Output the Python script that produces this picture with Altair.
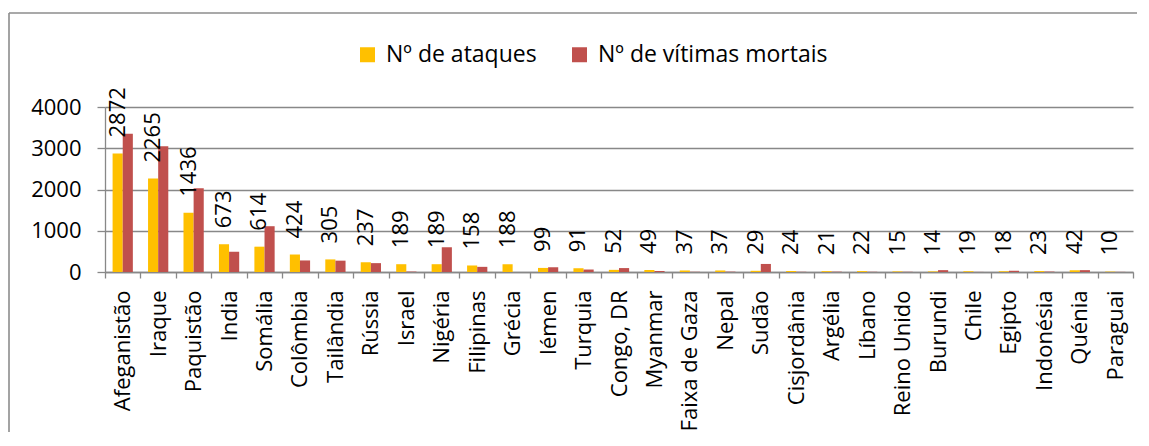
import altair as alt
import pandas as pd

countries = ["Afeganistão", "Iraque", "Paquistão", "India", "Somália", "Colômbia",
             "Tailândia", "Rússia", "Israel", "Nigéria", "Filipinas", "Grécia",
             "Iémen", "Turquia", "Congo, DR", "Myanmar", "Faixa de Gaza", "Nepal",
             "Sudão", "Cisjordânia", "Argélia", "Líbano", "Reino Unido", "Burundi",
             "Chile", "Egipto", "Indonésia", "Quénia", "Paraguai"]
ataques = [2872, 2265, 1436, 673, 614, 424, 305, 237, 189, 189, 158, 188, 99, 91,
           52, 49, 37, 37, 29, 24, 21, 22, 15, 14, 19, 18, 23, 42, 10]
mortes = [3350, 3050, 2030, 490, 1110, 280, 275, 215, 10, 600, 125, 0, 115, 60,
          95, 25, 5, 8, 195, 5, 8, 5, 5, 45, 2, 30, 10, 45, 3]
series = ["Nº de ataques", "Nº de vítimas mortais"]
colors = ["#FFC000", "#C0504D"]

rows = []
for i, c in enumerate(countries):
    rows.append({"pais": c, "serie": series[0], "valor": ataques[i]})
    rows.append({"pais": c, "serie": series[1], "valor": mortes[i]})
df = pd.DataFrame(rows)

FONT = "Open Sans"
FS = 22

x_enc = alt.X("pais:N", sort=countries,
              scale=alt.Scale(paddingInner=0, paddingOuter=0),
              axis=alt.Axis(title=None, labelAngle=-90, labelFont=FONT, labelFontSize=FS,
                            labelColor="black", tickBand="extent", tickSize=6,
                            tickColor="#888888", domainColor="#888888", tickWidth=1.3,
                            domainWidth=1.3, labelPadding=12, grid=False, labelLimit=0))
xo_enc = alt.XOffset("serie:N", sort=series,
                     scale=alt.Scale(domain=series, paddingInner=0, paddingOuter=0.75))
y_enc = alt.Y("valor:Q", scale=alt.Scale(domain=[0, 4000], nice=False),
              axis=alt.Axis(title=None, values=[0, 1000, 2000, 3000, 4000], format="d",
                            labelFont=FONT, labelFontSize=FS, labelColor="black",
                            tickSize=8, tickColor="#888888", tickWidth=1.3,
                            domainColor="#888888", domainWidth=1.3,
                            gridColor="#888888", gridWidth=1.3, labelPadding=16))

bars = alt.Chart(df).mark_bar().encode(
    x=x_enc, xOffset=xo_enc, y=y_enc,
    color=alt.Color("serie:N", sort=series,
                    scale=alt.Scale(domain=series, range=colors),
                    legend=alt.Legend(orient="none", legendX=251, legendY=-64,
                                      direction="horizontal", title=None,
                                      symbolType="square", symbolSize=225,
                                      symbolStrokeWidth=0, symbolOpacity=1,
                                      labelFont=FONT, labelFontSize=23, labelLimit=0,
                                      labelColor="black", columnPadding=31,
                                      labelOffset=7, padding=0))
)

labels = alt.Chart(df).transform_filter(
    alt.datum.serie == series[0]
).mark_text(angle=270, align="left", baseline="middle", dx=16,
            font=FONT, fontSize=FS, color="black").encode(
    x=alt.X("pais:N", sort=countries),
    xOffset=alt.XOffset("serie:N", sort=series),
    y=alt.Y("valor:Q"),
    text=alt.Text("valor:Q", format="d"),
)

one = pd.DataFrame({"k": [0]})
frame_left = alt.Chart(one).mark_rule(stroke="#8c8c8c", strokeWidth=1.6).encode(
    x=alt.value(-96), y=alt.value(-94), y2=alt.value(600))
frame_top = alt.Chart(one).mark_rule(stroke="#8c8c8c", strokeWidth=1.6).encode(
    x=alt.value(-96), x2=alt.value(1300), y=alt.value(-94))

chart = alt.layer(frame_left, frame_top, bars, labels).properties(
    width=1028, height=165,
    autosize=alt.AutoSizeParams(type="none"),
    padding={"left": 97, "top": 99, "right": 4, "bottom": 160},
).configure_view(stroke=None)

chart.save("out.html", embed_options={"renderer": "svg", "actions": False})
